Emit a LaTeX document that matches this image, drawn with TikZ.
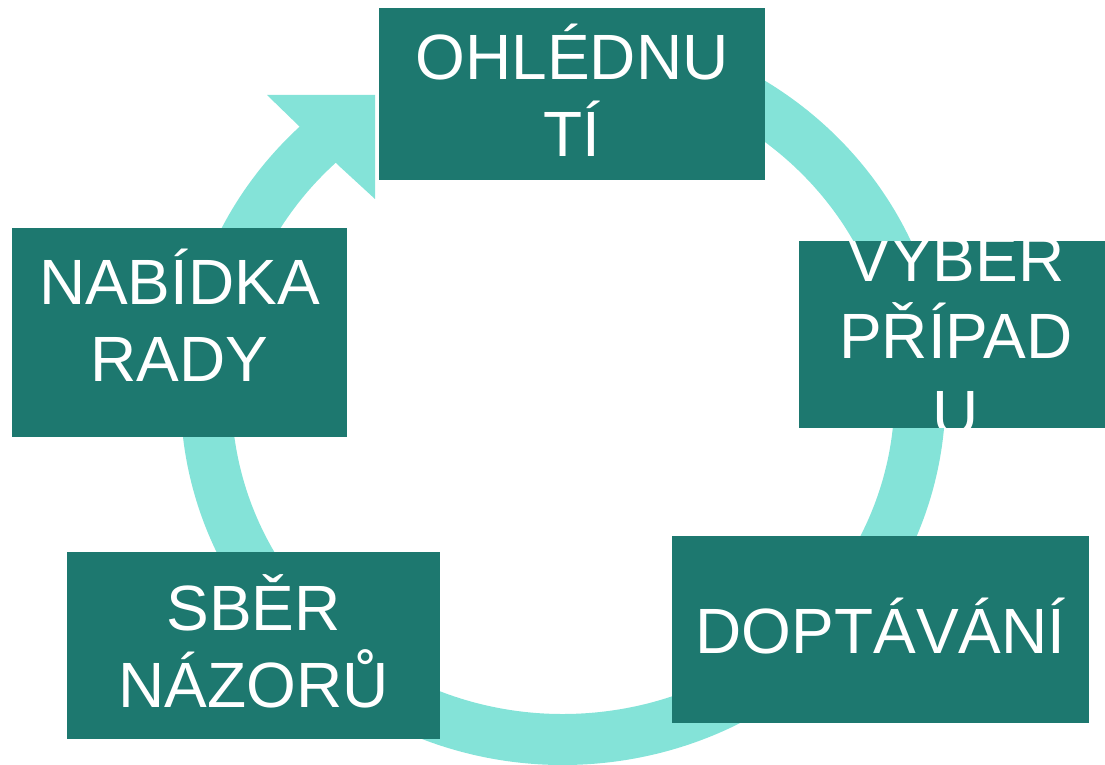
\documentclass[tikz,border=0pt]{standalone}
\usepackage{fontspec}
\setmainfont{Liberation Sans}
\usepackage{xcolor}
\usepackage{tikz}
\usetikzlibrary{calc}
\definecolor{boxteal}{HTML}{1D786F}
\definecolor{ringteal}{HTML}{84E3D8}
\tikzstyle{stage} = [rectangle, fill=boxteal, text=white, inner sep=0pt, align=center, font=\fontsize{64}{77}\selectfont, text height=125pt, text depth=0pt]
\tikzstyle{ring} = [line width=51pt, draw=ringteal]

\begin{document}
\begin{tikzpicture}[x=1pt, y=1pt]
  \useasboundingbox (0,0) rectangle (1105,765);

  % Ring
  \coordinate (c) at (563,370);
  \draw[ring] ($(c)+(95:357 and 344.5)$) arc[start angle=95, end angle=-227, x radius=357, y radius=344.5];

  % Arrow head
  \fill[ringteal] (375,670) -- (267,670) -- (301,637) -- (338,600) -- (375,566) -- cycle;

  % Stages
  \node[stage, minimum width=386pt, minimum height=172pt] (ohlednuti) at (572,671) {OHLÉDNU\\TÍ};

  \begin{scope}
    \clip (799,337) rectangle (1113,523);
    \node[stage, minimum width=314pt, minimum height=186pt, text height=202pt] (vyber) at (956,430) {VÝBĚR\\PŘÍPAD\\U};
  \end{scope}

  \node[stage, minimum width=417pt, minimum height=187pt, text height=48pt] (doptavani) at (880.5,135.5) {DOPTÁVÁNÍ};

  \node[stage, minimum width=373pt, minimum height=187pt] (sber) at (253.5,119.5) {SBĚR\\NÁZORŮ};

  \node[stage, minimum width=335pt, minimum height=209pt, text height=99pt] (nabidka) at (179.5,432.5) {NABÍDKA\\RADY};
\end{tikzpicture}
\end{document}
